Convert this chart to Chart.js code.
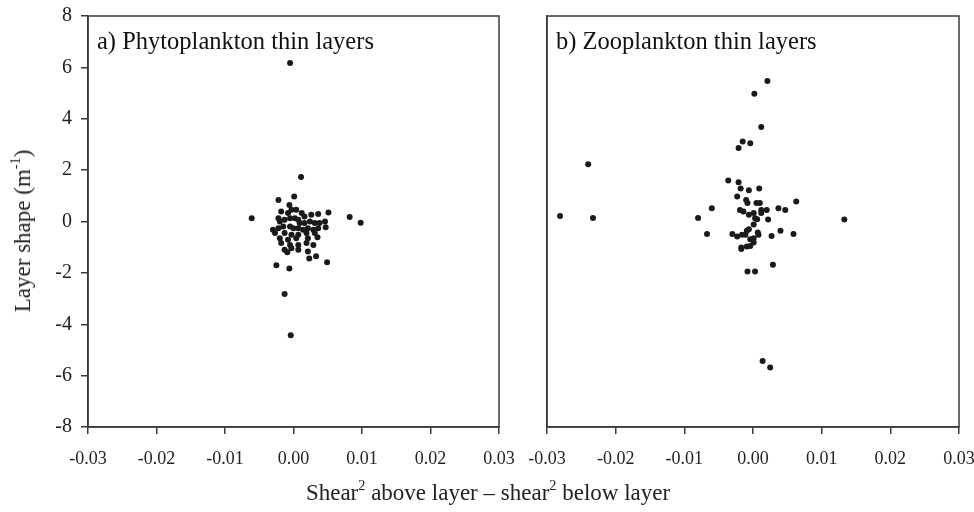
<!DOCTYPE html>
<html>
<head>
<meta charset="utf-8">
<script src="https://cdn.jsdelivr.net/npm/chart.js@4/dist/chart.umd.min.js"></script>
<style>
  html, body { margin: 0; padding: 0; background: #fff; }
  #wrap { position: relative; width: 974px; height: 512px; overflow: hidden; font-family: 'Liberation Serif', 'Times New Roman', serif; color: #222; }
  #c1 { position: absolute; left: 0; top: 0; }
  #c2 { position: absolute; left: 520px; top: 0; }
  .ytitle { position: absolute; left: 23px; top: 231px; transform: translate(-50%, -50%) rotate(-90deg); font-size: 23px; white-space: nowrap; }
  .xtitle { position: absolute; left: 488px; top: 493px; transform: translate(-50%, -50%); font-size: 23px; white-space: nowrap; }
  sup { font-size: 0.62em; line-height: 0; position: relative; top: -0.1em; }
</style>
</head>
<body>
<div id="wrap">
  <canvas id="c1" width="520" height="512" style="width:520px;height:512px"></canvas>
  <canvas id="c2" width="454" height="512" style="width:454px;height:512px"></canvas>
  <div class="ytitle">Layer shape (m<sup>-1</sup>)</div>
  <div class="xtitle">Shear<sup>2</sup> above layer – shear<sup>2</sup> below layer</div>
</div>
<script>
// ---- data ----
const panelTitles = ['a) Phytoplankton thin layers', 'b) Zooplankton thin layers'];
const xTickValues = [-0.03, -0.02, -0.01, 0.00, 0.01, 0.02, 0.03];
const yTickValues = [-8, -6, -4, -2, 0, 2, 4, 6, 8];

const phytoX = [-0.0005, 0.0011, 0.0001, -0.0022, -0.0006, -0.0061, 0.0082, 0.0098, 0.0051, -0.0018,
  -0.0008, -0.0003, 0.0004, 0.0012, 0.0016, 0.0026, 0.0036, 0.0046, -0.0022, -0.0020,
  -0.0013, -0.0005, 0.0002, 0.0007, 0.0009, 0.0016, 0.0024, 0.0031, 0.0038, -0.0030,
  -0.0022, -0.0015, -0.0005, 0.0000, 0.0007, 0.0014, 0.0021, 0.0029, 0.0036, 0.0047,
  -0.0027, -0.0013, -0.0003, 0.0007, 0.0019, 0.0031, -0.0020, -0.0008, 0.0004, 0.0021,
  0.0035, -0.0018, -0.0005, 0.0007, 0.0019, 0.0029, -0.0013, -0.0003, 0.0007, 0.0021,
  -0.0009, 0.0033, 0.0023, 0.0049, -0.0025, -0.0006, -0.0013, -0.0004];
const phytoY = [6.17, 1.73, 0.97, 0.84, 0.64, 0.13, 0.18, -0.05, 0.35, 0.39,
  0.33, 0.46, 0.46, 0.33, 0.19, 0.26, 0.29, 0.00, 0.13, 0.00,
  0.07, 0.13, 0.13, 0.07, -0.06, -0.06, 0.00, -0.06, -0.06, -0.32,
  -0.26, -0.19, -0.19, -0.26, -0.26, -0.32, -0.26, -0.32, -0.26, -0.22,
  -0.45, -0.45, -0.52, -0.52, -0.45, -0.45, -0.65, -0.71, -0.65, -0.65,
  -0.61, -0.84, -0.91, -0.91, -0.84, -0.91, -1.10, -1.04, -1.10, -1.17,
  -1.20, -1.35, -1.44, -1.59, -1.70, -1.83, -2.82, -4.43];

const zooX = [0.0021, 0.0002, 0.0012, -0.0015, -0.0004, -0.0021, -0.0240, -0.0281, -0.0233, -0.0036,
  -0.0021, -0.0018, -0.0006, 0.0009, -0.0023, -0.0010, -0.0008, 0.0005, 0.0010, 0.0063,
  -0.0060, -0.0080, -0.0019, -0.0014, 0.0001, 0.0012, 0.0012, 0.0020, 0.0037, 0.0047,
  -0.0006, 0.0003, 0.0006, 0.0022, 0.0133, 0.0001, -0.0006, -0.0009, -0.0067, -0.0030,
  -0.0023, -0.0016, -0.0011, 0.0007, 0.0008, 0.0001, -0.0004, 0.0027, 0.0040, 0.0059,
  0.0001, -0.0004, -0.0009, -0.0017, -0.0017, 0.0029, -0.0008, 0.0003, 0.0014, 0.0025];
const zooY = [5.47, 4.97, 3.68, 3.11, 3.05, 2.86, 2.23, 0.21, 0.14, 1.60,
  1.53, 1.28, 1.22, 1.28, 0.97, 0.84, 0.72, 0.72, 0.72, 0.78,
  0.52, 0.14, 0.45, 0.39, 0.33, 0.45, 0.33, 0.45, 0.52, 0.45,
  0.26, 0.13, 0.09, 0.08, 0.08, -0.12, -0.30, -0.36, -0.49, -0.49,
  -0.58, -0.52, -0.52, -0.43, -0.52, -0.65, -0.69, -0.56, -0.36, -0.49,
  -0.82, -0.95, -0.97, -1.01, -1.07, -1.68, -1.95, -1.95, -5.43, -5.68];

// ---- helpers ----
const FONT = "'Liberation Serif', 'Times New Roman', serif";
const INK = '#1a1a1a';
const AXIS = '#3a3a3a';

function pts(xs, ys) { return xs.map((x, i) => ({ x: x, y: ys[i] })); }

const framePlugin = {
  id: 'frame',
  afterDraw(chart, args, opts) {
    const a = chart.chartArea, ctx = chart.ctx;
    ctx.save();
    ctx.strokeStyle = AXIS;
    ctx.lineWidth = 1.5;
    ctx.strokeRect(a.left, a.top, a.right - a.left, a.bottom - a.top);
    ctx.fillStyle = '#111';
    ctx.font = '24.5px ' + FONT;
    ctx.textBaseline = 'alphabetic';
    ctx.textAlign = 'left';
    ctx.fillText(opts.label, a.left + 9, a.top + 33);
    ctx.restore();
  }
};

function makeChart(id, xs, ys, label, leftWidth, padRight, showY) {
  return new Chart(document.getElementById(id), {
    type: 'scatter',
    data: { datasets: [{ data: pts(xs, ys), backgroundColor: INK, borderColor: INK, pointRadius: 3, pointHoverRadius: 3, borderWidth: 0 }] },
    options: {
      responsive: false,
      animation: false,
      events: [],
      layout: { padding: { top: 16, right: padRight, left: 0, bottom: 0 } },
      plugins: { legend: { display: false }, tooltip: { enabled: false }, frame: { label: label } },
      scales: {
        x: {
          type: 'linear', min: -0.03, max: 0.03,
          afterBuildTicks: s => { s.ticks = xTickValues.map(v => ({ value: v })); },
          afterFit: s => { s.height = 85; s.paddingLeft = 0; s.paddingRight = 0; },
          border: { display: true, color: AXIS, width: 1.5 },
          grid: { display: true, drawOnChartArea: false, drawTicks: true, tickLength: 7, color: AXIS, lineWidth: 1.5 },
          ticks: { color: '#222', font: { family: FONT, size: 18 }, padding: 14, maxRotation: 0, autoSkip: false,
            callback: v => Number(v).toFixed(2) }
        },
        y: {
          type: 'linear', min: -8, max: 8,
          afterBuildTicks: s => { s.ticks = yTickValues.map(v => ({ value: v })); },
          afterFit: s => { s.width = leftWidth; s.paddingTop = 0; s.paddingBottom = 0; },
          border: { display: true, color: AXIS, width: 1.5 },
          grid: { display: showY, drawOnChartArea: false, drawTicks: showY, tickLength: 7, color: AXIS, lineWidth: 1.5 },
          ticks: { display: showY, color: '#222', font: { family: FONT, size: 20 }, padding: 9, autoSkip: false,
            callback: v => String(v) }
        }
      }
    },
    plugins: [framePlugin]
  });
}

makeChart('c1', phytoX, phytoY, panelTitles[0], 88, 21, true);
makeChart('c2', zooX, zooY, panelTitles[1], 27, 15, false);
</script>
</body>
</html>
